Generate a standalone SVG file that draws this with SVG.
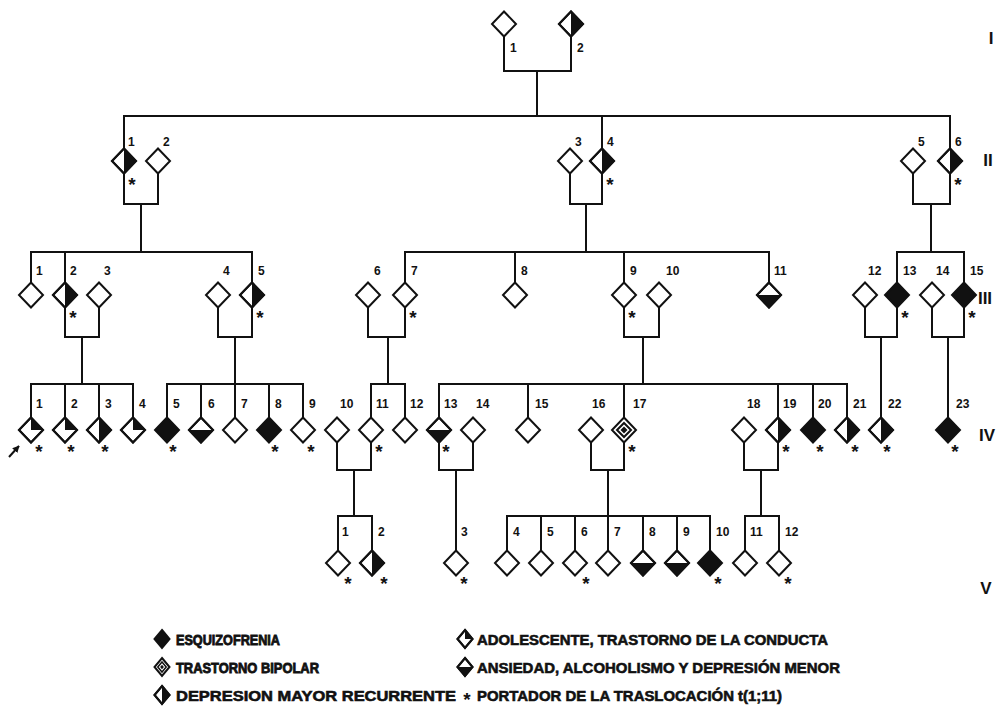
<svg xmlns="http://www.w3.org/2000/svg" xmlns:xlink="http://www.w3.org/1999/xlink" width="998" height="718" viewBox="0 0 998 718">
<style>
.o{fill:none;stroke:#111;stroke-width:2;stroke-linejoin:miter}
.w{fill:#fff;stroke:#111;stroke-width:2}
.f{fill:#111;stroke:none}
.ln{fill:none;stroke:#111;stroke-width:2;stroke-linecap:square}
.n{font-family:"Liberation Sans",Arial,sans-serif;font-weight:bold;font-size:12px;fill:#111}
.s{font-family:"Liberation Sans",Arial,sans-serif;font-weight:bold;font-size:19px;fill:#111;text-anchor:middle}
.r{font-family:"Liberation Sans",Arial,sans-serif;font-weight:bold;font-size:17px;fill:#111;text-anchor:middle}
.lg{font-family:"Liberation Sans",Arial,sans-serif;font-weight:bold;font-size:15px;fill:#111;stroke:#111;stroke-width:0.6}
.lg2{stroke-width:0.9;font-size:15.5px}
</style>
<defs>
<path id="dia" d="M0,-12.5 L12,0 L0,12.5 L-12,0 Z"/>
<path id="rh" d="M0,-12.5 L12,0 L0,12.5 Z"/>
<path id="bh" d="M-12,0 L12,0 L0,12.5 Z"/>
<path id="ur" d="M0,-12.5 L12,0 L0,0 Z"/>
<path id="in" d="M0,-7 L7,0 L0,7 L-7,0 Z"/>
<path id="ct" d="M0,-3.5 L3.5,0 L0,3.5 L-3.5,0 Z"/>
<path id="ldia" d="M0,-9 L7.5,0 L0,9 L-7.5,0 Z"/>
<path id="lrh" d="M0,-9 L7.5,0 L0,9 Z"/>
<path id="lbh" d="M-7.5,0 L7.5,0 L0,9 Z"/>
<path id="lur" d="M0,-9 L7.5,0 L0,0 Z"/>
<path id="lin" d="M0,-5 L4.2,0 L0,5 L-4.2,0 Z"/>
<path id="lct" d="M0,-2.2 L1.9,0 L0,2.2 L-1.9,0 Z"/>
<marker id="arr" viewBox="0 0 10 10" refX="9" refY="5" markerWidth="7" markerHeight="7" orient="auto" markerUnits="userSpaceOnUse">
<path d="M0,0 L10,5 L0,10 Z" fill="#111"/>
</marker>
</defs>
<rect width="998" height="718" fill="#fff"/>

<g id="connectors" class="ln">
<path d="M504,36.5 V71 H571 V36.5 M537,71 V116 M124,116 H950 M124,116 V148.5 M602,116 V148.5 M950,116 V148.5"/>
<path d="M124,173.5 V204 H158 V173.5 M141,204 V252 M570,173.5 V204 H602 V173.5 M586,204 V252 M913,173.5 V204 H950 V173.5 M931,204 V252"/>
<path d="M31,252 H252 M31,252 V282.5 M65,252 V282.5 M252,252 V282.5 M405,252 H769 M405,252 V282.5 M515,252 V282.5 M624,252 V282.5 M769,252 V282.5 M897,252 H964 M897,252 V282.5 M964,252 V282.5"/>
<path d="M65,307.5 V337 H99 V307.5 M82,337 V384 M218,307.5 V337 H252 V307.5 M235,337 V384 M368,307.5 V337 H405 V307.5 M388,337 V384 M624,307.5 V337 H659 V307.5 M643,337 V384 M865,307.5 V337 H897 V307.5 M881,337 V417.5 M932,307.5 V337 H964 V307.5 M948,337 V417.5"/>
<path d="M31,384 H133 M31,384 V417.5 M65,384 V417.5 M99,384 V417.5 M133,384 V417.5 M167,384 H303 M167,384 V417.5 M201,384 V417.5 M235,384 V417.5 M269,384 V417.5 M303,384 V417.5 M371,384 H405 M371,384 V417.5 M405,384 V417.5 M439,384 H847 M439,384 V417.5 M528,384 V417.5 M624,384 V417.5 M778,384 V417.5 M813,384 V417.5 M847,384 V417.5"/>
<path d="M337,442.5 V470 H371 V442.5 M354,470 V516 M439,442.5 V470 H473 V442.5 M456,470 V550.5 M591,442.5 V470 H624 V442.5 M608,470 V516 M744,442.5 V470 H778 V442.5 M761,470 V516"/>
<path d="M338,516 H372 M338,516 V550.5 M372,516 V550.5 M507,516 H710 M507,516 V550.5 M541,516 V550.5 M575,516 V550.5 M608,516 V550.5 M643,516 V550.5 M677,516 V550.5 M710,516 V550.5 M745,516 H779 M745,516 V550.5 M779,516 V550.5"/>
<path d="M9,457 L19,446" marker-end="url(#arr)" stroke-linecap="butt"/>
</g>

<!-- Generation I -->
<g id="I-1" transform="translate(504,24)"><use href="#dia" class="w"/><text class="n" x="6" y="28">1</text></g>
<g id="I-2" transform="translate(571,24)"><use href="#dia" class="w"/><use href="#rh" class="f"/><use href="#dia" class="o"/><text class="n" x="6" y="28">2</text></g>

<!-- Generation II -->
<g id="II-1" transform="translate(124,161)"><use href="#dia" class="w"/><use href="#rh" class="f"/><use href="#dia" class="o"/><text class="n" x="4" y="-15">1</text><text class="s" x="8" y="30">*</text></g>
<g id="II-2" transform="translate(158,161)"><use href="#dia" class="w"/><text class="n" x="5" y="-15">2</text></g>
<g id="II-3" transform="translate(570,161)"><use href="#dia" class="w"/><text class="n" x="5" y="-15">3</text></g>
<g id="II-4" transform="translate(602,161)"><use href="#dia" class="w"/><use href="#rh" class="f"/><use href="#dia" class="o"/><text class="n" x="5" y="-15">4</text><text class="s" x="8" y="30">*</text></g>
<g id="II-5" transform="translate(913,161)"><use href="#dia" class="w"/><text class="n" x="5" y="-15">5</text></g>
<g id="II-6" transform="translate(950,161)"><use href="#dia" class="w"/><use href="#rh" class="f"/><use href="#dia" class="o"/><text class="n" x="5" y="-15">6</text><text class="s" x="8" y="30">*</text></g>

<!-- Generation III -->
<g id="III-1" transform="translate(31,295)"><use href="#dia" class="w"/><text class="n" x="5" y="-20">1</text></g>
<g id="III-2" transform="translate(65,295)"><use href="#dia" class="w"/><use href="#rh" class="f"/><use href="#dia" class="o"/><text class="n" x="5" y="-20">2</text><text class="s" x="8" y="29">*</text></g>
<g id="III-3" transform="translate(99,295)"><use href="#dia" class="w"/><text class="n" x="5" y="-20">3</text></g>
<g id="III-4" transform="translate(218,295)"><use href="#dia" class="w"/><text class="n" x="5" y="-20">4</text></g>
<g id="III-5" transform="translate(252,295)"><use href="#dia" class="w"/><use href="#rh" class="f"/><use href="#dia" class="o"/><text class="n" x="6" y="-20">5</text><text class="s" x="8" y="29">*</text></g>
<g id="III-6" transform="translate(368,295)"><use href="#dia" class="w"/><text class="n" x="6" y="-20">6</text></g>
<g id="III-7" transform="translate(405,295)"><use href="#dia" class="w"/><text class="n" x="6" y="-20">7</text><text class="s" x="8" y="29">*</text></g>
<g id="III-8" transform="translate(515,295)"><use href="#dia" class="w"/><text class="n" x="6" y="-20">8</text></g>
<g id="III-9" transform="translate(624,295)"><use href="#dia" class="w"/><text class="n" x="6" y="-20">9</text><text class="s" x="8" y="29">*</text></g>
<g id="III-10" transform="translate(659,295)"><use href="#dia" class="w"/><text class="n" x="7" y="-20">10</text></g>
<g id="III-11" transform="translate(769,295)"><use href="#dia" class="w"/><use href="#bh" class="f"/><use href="#dia" class="o"/><text class="n" x="5" y="-20">11</text></g>
<g id="III-12" transform="translate(865,295)"><use href="#dia" class="w"/><text class="n" x="3" y="-20">12</text></g>
<g id="III-13" transform="translate(897,295)"><use href="#dia" class="f"/><use href="#dia" class="o"/><text class="n" x="6" y="-20">13</text><text class="s" x="8" y="29">*</text></g>
<g id="III-14" transform="translate(932,295)"><use href="#dia" class="w"/><text class="n" x="4" y="-20">14</text></g>
<g id="III-15" transform="translate(964,295)"><use href="#dia" class="f"/><use href="#dia" class="o"/><text class="n" x="6" y="-20">15</text><text class="s" x="8" y="29">*</text></g>

<!-- Generation IV -->
<g id="IV-1" transform="translate(31,430)"><use href="#dia" class="w"/><use href="#ur" class="f"/><use href="#dia" class="o"/><text class="n" x="5" y="-22">1</text><text class="s" x="8" y="28">*</text></g>
<g id="IV-2" transform="translate(65,430)"><use href="#dia" class="w"/><use href="#ur" class="f"/><use href="#dia" class="o"/><text class="n" x="6" y="-22">2</text><text class="s" x="6" y="28">*</text></g>
<g id="IV-3" transform="translate(99,430)"><use href="#dia" class="w"/><use href="#rh" class="f"/><use href="#dia" class="o"/><text class="n" x="6" y="-22">3</text><text class="s" x="6" y="28">*</text></g>
<g id="IV-4" transform="translate(133,430)"><use href="#dia" class="w"/><use href="#ur" class="f"/><use href="#dia" class="o"/><text class="n" x="6" y="-22">4</text></g>
<g id="IV-5" transform="translate(167,430)"><use href="#dia" class="f"/><use href="#dia" class="o"/><text class="n" x="6" y="-22">5</text><text class="s" x="6" y="28">*</text></g>
<g id="IV-6" transform="translate(201,430)"><use href="#dia" class="w"/><use href="#bh" class="f"/><use href="#dia" class="o"/><text class="n" x="7" y="-22">6</text></g>
<g id="IV-7" transform="translate(235,430)"><use href="#dia" class="w"/><text class="n" x="6" y="-22">7</text></g>
<g id="IV-8" transform="translate(269,430)"><use href="#dia" class="f"/><use href="#dia" class="o"/><text class="n" x="6" y="-22">8</text><text class="s" x="6" y="28">*</text></g>
<g id="IV-9" transform="translate(303,430)"><use href="#dia" class="w"/><text class="n" x="6" y="-22">9</text><text class="s" x="8" y="28">*</text></g>
<g id="IV-10" transform="translate(337,430)"><use href="#dia" class="w"/><text class="n" x="3" y="-22">10</text></g>
<g id="IV-11" transform="translate(371,430)"><use href="#dia" class="w"/><text class="n" x="5" y="-22">11</text><text class="s" x="8" y="28">*</text></g>
<g id="IV-12" transform="translate(405,430)"><use href="#dia" class="w"/><text class="n" x="5" y="-22">12</text></g>
<g id="IV-13" transform="translate(439,430)"><use href="#dia" class="w"/><use href="#bh" class="f"/><use href="#dia" class="o"/><text class="n" x="5" y="-22">13</text><text class="s" x="7" y="28">*</text></g>
<g id="IV-14" transform="translate(473,430)"><use href="#dia" class="w"/><text class="n" x="3" y="-22">14</text></g>
<g id="IV-15" transform="translate(528,430)"><use href="#dia" class="w"/><text class="n" x="7" y="-22">15</text></g>
<g id="IV-16" transform="translate(591,430)"><use href="#dia" class="w"/><text class="n" x="1" y="-22">16</text></g>
<g id="IV-17" transform="translate(624,430)"><use href="#dia" class="w"/><use href="#in" class="o"/><use href="#ct" class="f"/><text class="n" x="9" y="-22">17</text><text class="s" x="8" y="28">*</text></g>
<g id="IV-18" transform="translate(744,430)"><use href="#dia" class="w"/><text class="n" x="3" y="-22">18</text></g>
<g id="IV-19" transform="translate(778,430)"><use href="#dia" class="w"/><use href="#rh" class="f"/><use href="#dia" class="o"/><text class="n" x="5" y="-22">19</text><text class="s" x="8" y="28">*</text></g>
<g id="IV-20" transform="translate(813,430)"><use href="#dia" class="f"/><use href="#dia" class="o"/><text class="n" x="5" y="-22">20</text><text class="s" x="7" y="28">*</text></g>
<g id="IV-21" transform="translate(847,430)"><use href="#dia" class="w"/><use href="#rh" class="f"/><use href="#dia" class="o"/><text class="n" x="6" y="-22">21</text><text class="s" x="8" y="28">*</text></g>
<g id="IV-22" transform="translate(881,430)"><use href="#dia" class="w"/><use href="#rh" class="f"/><use href="#dia" class="o"/><text class="n" x="7" y="-22">22</text><text class="s" x="6" y="28">*</text></g>
<g id="IV-23" transform="translate(948,430)"><use href="#dia" class="f"/><use href="#dia" class="o"/><text class="n" x="8" y="-22">23</text><text class="s" x="7" y="28">*</text></g>

<!-- Generation V -->
<g id="V-1" transform="translate(338,563)"><use href="#dia" class="w"/><text class="n" x="4" y="-27">1</text><text class="s" x="10" y="27">*</text></g>
<g id="V-2" transform="translate(372,563)"><use href="#dia" class="w"/><use href="#rh" class="f"/><use href="#dia" class="o"/><text class="n" x="6" y="-27">2</text><text class="s" x="12" y="27">*</text></g>
<g id="V-3" transform="translate(456,563)"><use href="#dia" class="w"/><text class="n" x="5" y="-27">3</text><text class="s" x="8" y="27">*</text></g>
<g id="V-4" transform="translate(507,563)"><use href="#dia" class="w"/><text class="n" x="6" y="-27">4</text></g>
<g id="V-5" transform="translate(541,563)"><use href="#dia" class="w"/><text class="n" x="6" y="-27">5</text></g>
<g id="V-6" transform="translate(575,563)"><use href="#dia" class="w"/><text class="n" x="6" y="-27">6</text><text class="s" x="11" y="27">*</text></g>
<g id="V-7" transform="translate(608,563)"><use href="#dia" class="w"/><text class="n" x="6" y="-27">7</text></g>
<g id="V-8" transform="translate(643,563)"><use href="#dia" class="w"/><use href="#bh" class="f"/><use href="#dia" class="o"/><text class="n" x="6" y="-27">8</text></g>
<g id="V-9" transform="translate(677,563)"><use href="#dia" class="w"/><use href="#bh" class="f"/><use href="#dia" class="o"/><text class="n" x="6" y="-27">9</text></g>
<g id="V-10" transform="translate(710,563)"><use href="#dia" class="f"/><use href="#dia" class="o"/><text class="n" x="6" y="-27">10</text><text class="s" x="8" y="27">*</text></g>
<g id="V-11" transform="translate(745,563)"><use href="#dia" class="w"/><text class="n" x="5" y="-27">11</text></g>
<g id="V-12" transform="translate(779,563)"><use href="#dia" class="w"/><text class="n" x="6" y="-27">12</text><text class="s" x="9" y="27">*</text></g>

<!-- Generation numerals -->
<g id="generations">
<text class="r" x="991" y="44">I</text>
<text class="r" x="988" y="166">II</text>
<text class="r" x="985" y="304">III</text>
<text class="r" x="987" y="441">IV</text>
<text class="r" x="986" y="594">V</text>
</g>

<!-- Legend -->
<g id="legend">
<g transform="translate(162,639)"><use href="#ldia" class="f"/><use href="#ldia" class="o"/></g>
<text class="lg lg2" x="176" y="645" textLength="104" lengthAdjust="spacingAndGlyphs">ESQUIZOFRENIA</text>
<g transform="translate(162,667)"><use href="#ldia" class="w"/><use href="#lin" class="o" style="stroke-width:1.5"/><use href="#lct" class="f"/></g>
<text class="lg lg2" x="176" y="673" textLength="143" lengthAdjust="spacingAndGlyphs">TRASTORNO BIPOLAR</text>
<g transform="translate(162,695)"><use href="#ldia" class="w"/><use href="#lrh" class="f"/><use href="#ldia" class="o"/></g>
<text class="lg" x="176" y="700.5" textLength="280" lengthAdjust="spacingAndGlyphs">DEPRESION MAYOR RECURRENTE</text>
<g transform="translate(465,639)"><use href="#ldia" class="w"/><use href="#lur" class="f"/><use href="#ldia" class="o"/></g>
<text class="lg" x="477" y="644.5" textLength="351" lengthAdjust="spacingAndGlyphs">ADOLESCENTE, TRASTORNO DE LA CONDUCTA</text>
<g transform="translate(465,667)"><use href="#ldia" class="w"/><use href="#lbh" class="f"/><use href="#ldia" class="o"/></g>
<text class="lg" x="477" y="672.5" textLength="363" lengthAdjust="spacingAndGlyphs">ANSIEDAD, ALCOHOLISMO Y DEPRESIÓN MENOR</text>
<text class="s" x="467" y="706">*</text>
<text class="lg" x="477" y="700.5" textLength="305" lengthAdjust="spacingAndGlyphs">PORTADOR DE LA TRASLOCACIÓN t(1;11)</text>
</g>
</svg>
